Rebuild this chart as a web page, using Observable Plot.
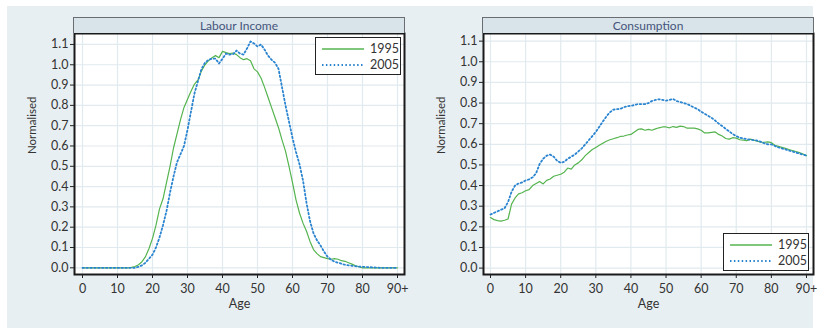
<!DOCTYPE html>
<html><head><meta charset="utf-8">
<script src="https://cdn.jsdelivr.net/npm/d3@7"></script>
<script src="https://cdn.jsdelivr.net/npm/@observablehq/plot@0.6"></script>
<style>
body{margin:0;background:#fff;font-family:Lato,sans-serif;}
#wrap{position:relative;width:820px;height:330px;overflow:hidden;background:#fff;}
#bg{position:absolute;left:7px;top:6px;width:806px;height:322px;background:#e8eff2;}
.panel{position:absolute;top:0;width:410px;height:330px;}
.panel svg{position:absolute;left:0;top:0;}
.hdr{position:absolute;top:17px;height:16px;box-sizing:border-box;background:#d9e4ea;border:1.5px solid #6a6e72;border-bottom:none;font-size:12px;color:#45557a;text-align:center;line-height:15px;font-family:Lato,sans-serif;}
.legend{position:absolute;box-sizing:border-box;background:#fff;border:1.5px solid #222;font-size:12.5px;color:#333;font-family:Lato,sans-serif;}
.legend .row{position:absolute;left:0;height:16px;width:100%;}
.legend svg{position:absolute;left:5px;top:0;}
.legend span{position:absolute;left:54px;top:0;line-height:16px;}
</style></head>
<body>
<div id="wrap"><div id="bg"></div>
<div class="panel" id="p1" style="left:0"></div>
<div class="panel" id="p2" style="left:410px"></div>
</div>
<script>
const ages = [0,1,2,3,4,5,6,7,8,9,10,11,12,13,14,15,16,17,18,19,20,21,22,23,24,25,26,27,28,29,30,31,32,33,34,35,36,37,38,39,40,41,42,43,44,45,46,47,48,49,50,51,52,53,54,55,56,57,58,59,60,61,62,63,64,65,66,67,68,69,70,71,72,73,74,75,76,77,78,79,80,81,82,83,84,85,86,87,88,89,90];
const xTicks = [0,10,20,30,40,50,60,70,80,90];
const xTickLabels = ["0","10","20","30","40","50","60","70","80","90+"];
const yTicks = [0,0.1,0.2,0.3,0.4,0.5,0.6,0.7,0.8,0.9,1.0,1.1];
const seriesNames = ["1995","2005"];
const panelTitles = ["Labour Income","Consumption"];

const labour1995 = [0,0,0,0,0,0,0,0,0,0,0,0,0,0,
 0.002,0.006,0.015,0.03,0.055,0.095,0.145,0.21,0.29,0.34,0.42,0.5,0.59,0.66,0.73,0.79,0.83,0.87,0.905,0.925,0.97,1.0,1.02,1.035,1.045,1.035,1.066,1.06,1.055,1.058,1.05,1.035,1.025,1.03,1.02,0.98,0.965,0.935,0.89,0.84,0.79,0.74,0.69,0.63,0.575,0.5,0.42,0.335,0.27,0.22,0.18,0.13,0.09,0.07,0.055,0.05,0.045,0.042,0.045,0.042,0.035,0.032,0.025,0.018,0.01,0.005,
 0,0,0,0,0,0,0,0,0,0,0];
const labour2005 = [0,0,0,0,0,0,0,0,0,0,0,0,0,0,0,0,
 0.005,0.012,0.025,0.045,0.065,0.1,0.15,0.21,0.28,0.37,0.45,0.52,0.56,0.6,0.68,0.77,0.86,0.92,0.98,1.01,1.025,1.03,1.03,1.006,1.03,1.055,1.05,1.052,1.07,1.055,1.05,1.08,1.115,1.105,1.09,1.1,1.075,1.045,1.025,1.01,0.98,0.89,0.8,0.72,0.64,0.57,0.51,0.43,0.32,0.23,0.17,0.135,0.11,0.08,0.055,0.04,0.03,0.025,0.02,0.015,0.012,0.01,0.008,0.006,0.005,0.004,0.003,0.002,0.001,
 0,0,0,0,0,0];
const cons1995 = [0.245,0.235,0.23,0.228,0.232,0.238,0.31,0.34,0.36,0.365,0.375,0.38,0.4,0.41,0.42,0.408,0.425,0.432,0.445,0.45,0.455,0.465,0.485,0.48,0.5,0.51,0.525,0.545,0.56,0.575,0.585,0.595,0.605,0.615,0.622,0.627,0.632,0.638,0.64,0.645,0.648,0.66,0.672,0.675,0.668,0.672,0.668,0.675,0.68,0.684,0.684,0.68,0.686,0.682,0.688,0.686,0.678,0.678,0.678,0.675,0.668,0.655,0.655,0.658,0.66,0.648,0.64,0.628,0.625,0.632,0.63,0.622,0.62,0.618,0.625,0.62,0.615,0.61,0.61,0.612,0.608,0.595,0.59,0.585,0.58,0.575,0.57,0.565,0.56,0.553,0.545];
const cons2005 = [0.26,0.268,0.275,0.283,0.29,0.32,0.37,0.4,0.41,0.415,0.425,0.43,0.44,0.46,0.505,0.53,0.545,0.55,0.54,0.52,0.51,0.515,0.53,0.54,0.55,0.565,0.58,0.6,0.62,0.64,0.66,0.685,0.71,0.735,0.755,0.768,0.77,0.772,0.78,0.785,0.787,0.79,0.795,0.795,0.795,0.8,0.81,0.815,0.818,0.815,0.812,0.815,0.82,0.81,0.805,0.8,0.795,0.787,0.778,0.77,0.758,0.748,0.738,0.728,0.715,0.7,0.688,0.675,0.662,0.65,0.64,0.632,0.628,0.625,0.622,0.62,0.618,0.612,0.605,0.6,0.6,0.592,0.585,0.58,0.575,0.57,0.565,0.56,0.555,0.55,0.545];

const GREEN = "#55b44f", BLUE = "#2a84cf";

function rows(vals){ return ages.map((a,i)=>({age:a, v:vals[i]})); }

function makePanel(el, title, v95, v05, cfg){
  const chart = Plot.plot({
    width:410, height:330,
    marginLeft:cfg.ml, marginRight:cfg.mr, marginTop:33, marginBottom:56,
    x:{domain:cfg.xd},
    y:{domain:cfg.yd},
    style:{background:"transparent", fontFamily:"Lato, sans-serif", fontSize:"12px", color:"#333"},
    marks:[
      Plot.frame({fill:"white"}),
      Plot.gridX(xTicks,{stroke:"#e1eaee", strokeOpacity:1, strokeWidth:1.2}),
      Plot.gridY(yTicks,{stroke:"#e1eaee", strokeOpacity:1, strokeWidth:1.2}),
      Plot.line(rows(v95),{x:"age", y:"v", stroke:GREEN, strokeWidth:1.2}),
      Plot.line(rows(v05),{x:"age", y:"v", stroke:BLUE, strokeWidth:1.8, strokeDasharray:"1.5,2.4"}),
      Plot.frame({stroke:"#1a1a1a", strokeWidth:2}),
      Plot.axisX(xTicks,{tickSize:4, tickPadding:6, tickFormat:(d,i)=>xTickLabels[i], label:null, stroke:"#222", fill:"#333", fontSize:12.5}),
      Plot.axisY(yTicks,{tickSize:4, tickPadding:2, tickFormat:d3.format(".1f"), label:null, stroke:"#222", fill:"#333", fontSize:12.5}),
      Plot.text(["Age"],{frameAnchor:"bottom", lineAnchor:"middle", dy:29, fontSize:12.5, fill:"#333"}),
      Plot.text(["Normalised"],{frameAnchor:"left", dx:-42, rotate:-90, fontSize:11.5, fill:"#333"})
    ]
  });
  el.appendChild(chart);
  const hdr = document.createElement("div");
  hdr.className = "hdr";
  hdr.style.left = (cfg.ml - 1) + "px";
  hdr.style.width = (410 - cfg.ml - cfg.mr + 2) + "px";
  hdr.textContent = title;
  el.appendChild(hdr);
  const lg = document.createElement("div");
  lg.className = "legend";
  Object.assign(lg.style, {left:cfg.lg[0]+"px", top:cfg.lg[1]+"px", width:"86px", height:"38px"});
  seriesNames.forEach((name,i)=>{
    const r = document.createElement("div");
    r.className = "row";
    r.style.top = (3 + i*16) + "px";
    const col = i===0?GREEN:BLUE;
    const dash = i===0?"":' stroke-dasharray="1.5,2.4"';
    r.innerHTML = `<svg width="44" height="16"><line x1="1" x2="43" y1="8" y2="8" stroke="${col}" stroke-width="${i===0?1.6:1.8}"${dash}/></svg><span>${name}</span>`;
    lg.appendChild(r);
  });
  el.appendChild(lg);
}

makePanel(document.getElementById("p1"), panelTitles[0], labour1995, labour2005,
  {ml:74, mr:6, xd:[-2.29, 92], yd:[-0.033, 1.154], lg:[315, 37]});
makePanel(document.getElementById("p2"), panelTitles[1], cons1995, cons2005,
  {ml:73, mr:7, xd:[-1.99, 92], yd:[-0.031, 1.137], lg:[313, 233]});
</script>
</body></html>
